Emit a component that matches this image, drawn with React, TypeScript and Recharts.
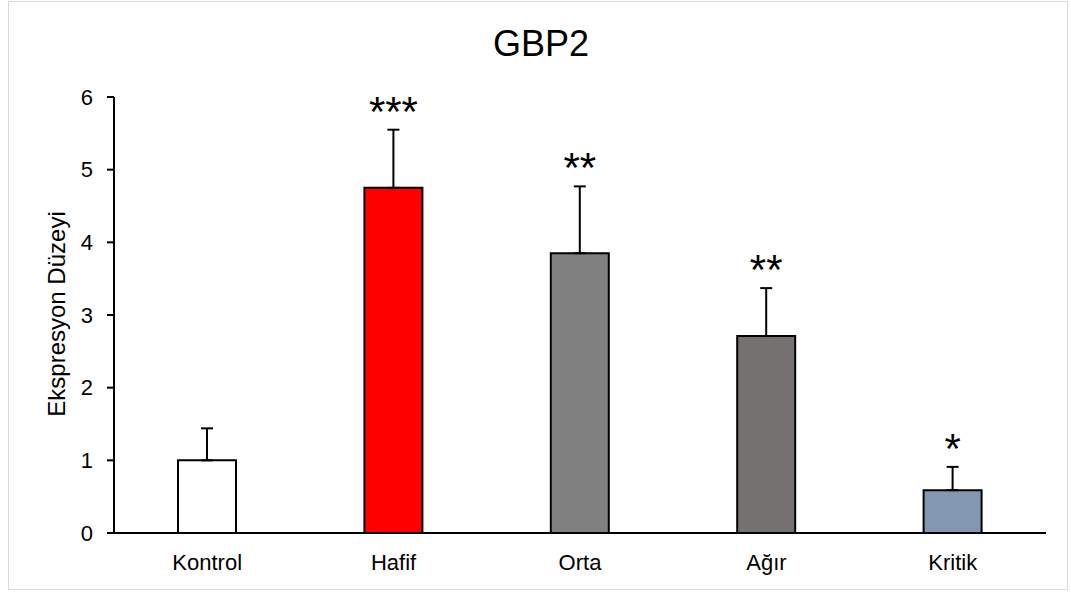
import { BarChart, Bar, XAxis, YAxis, ErrorBar, Cell, LabelList } from "recharts";

const categories = ["Kontrol", "Hafif", "Orta", "Ağır", "Kritik"];
const means = [1.0, 4.75, 3.85, 2.71, 0.59];
const errors = [0.44, 0.8, 0.92, 0.66, 0.32];
const stars = ["", "***", "**", "**", "*"];
const colors = ["#FFFFFF", "#FF0000", "#808080", "#767171", "#8497B0"];
const yTicks = [0, 1, 2, 3, 4, 5, 6];

const FONT = "'Liberation Sans', Arial, sans-serif";

const data = categories.map((name, i) => ({
  name,
  mean: means[i],
  err: [0, errors[i]],
  star: stars[i],
}));

// puts the stars just above the top of the error bar
const StarLabel = (props: any) => {
  const { x, y, width, height, index } = props;
  const s = stars[index];
  if (!s) return null;
  const perUnit = height / means[index];
  const top = y - errors[index] * perUnit;
  return (
    <text
      x={x + width / 2}
      y={top - 4}
      textAnchor="middle"
      fontSize={42}
      fontFamily={FONT}
      fill="#000"
    >
      {s}
    </text>
  );
};

const YLabel = () => (
  <text
    transform="translate(65,314) rotate(-90)"
    textAnchor="middle"
    fontSize={24}
    fontFamily={FONT}
    fill="#000"
  >
    Ekspresyon Düzeyi
  </text>
);

export default function App() {
  return (
    <div style={{ position: "absolute", left: 0, top: 0, width: 1071, height: 594, background: "#fff" }}>
      <div
        style={{
          position: "absolute",
          left: 8,
          top: 1,
          width: 1060,
          height: 589,
          border: "1px solid #d9d9d9",
          boxSizing: "border-box",
        }}
      />
      <div
        style={{
          position: "absolute",
          left: 0,
          top: 26,
          width: 1082,
          textAlign: "center",
          fontFamily: FONT,
          fontSize: 36,
          lineHeight: "36px",
          color: "#000",
        }}
      >
        GBP2
      </div>
      <div style={{ position: "absolute", left: 0, top: 0 }}>
        <BarChart
          width={1071}
          height={594}
          data={data}
          margin={{ top: 97, right: 25, bottom: 21, left: 0 }}
          barSize={58}
        >
          <XAxis
            dataKey="name"
            height={40}
            tickLine={false}
            axisLine={{ stroke: "#000", strokeWidth: 2 }}
            tick={{ fill: "#000", fontSize: 22, fontFamily: FONT }}
            tickMargin={15}
          />
          <YAxis
            width={114}
            domain={[0, 6]}
            ticks={yTicks}
            interval={0}
            tickSize={7}
            tickMargin={14}
            axisLine={{ stroke: "#000", strokeWidth: 2 }}
            tickLine={{ stroke: "#000", strokeWidth: 2 }}
            tick={{ fill: "#000", fontSize: 22, fontFamily: FONT }}
            label={<YLabel />}
          />
          <Bar dataKey="mean" stroke="#000" strokeWidth={2} isAnimationActive={false}>
            {data.map((d, i) => (
              <Cell key={d.name} fill={colors[i]} />
            ))}
            <ErrorBar dataKey="err" direction="y" width={6} stroke="#000" strokeWidth={2} />
            <LabelList dataKey="star" content={<StarLabel />} />
          </Bar>
        </BarChart>
      </div>
    </div>
  );
}
